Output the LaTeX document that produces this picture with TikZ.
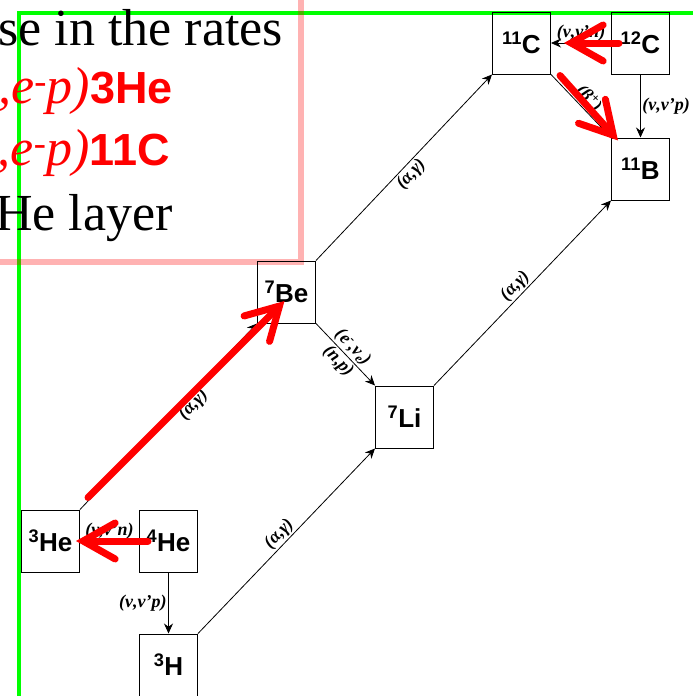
\documentclass[tikz,border=0pt]{standalone}
\usepackage{fontspec}
\setmainfont{Liberation Serif}
\setsansfont{Liberation Sans}
\usetikzlibrary{arrows.meta, positioning}

\tikzset{
  nucbox/.style={draw, line width=1pt, minimum width=58pt, minimum height=62pt, inner sep=0pt,
    font=\sffamily\bfseries\fontsize{26}{28}\selectfont},
  reac/.style={font=\bfseries\itshape\fontsize{18}{20}\selectfont, inner sep=1.5pt},
  flow/.style={-{Stealth[length=10pt,width=9pt]}, line width=0.8pt},
  redarr/.style={red, line width=7pt, line cap=round,
    -{Straight Barb[length=32pt,width=36pt,line cap=round]}},
  bigtxt/.style={anchor=base east, inner sep=0pt, font=\fontsize{52}{60}\selectfont},
}

\begin{document}
\begin{tikzpicture}[x=1pt, y=-1pt]
    \useasboundingbox (0,0) rectangle (693,696);
    \clip (0,0) rectangle (693,696);

    % frames
    \draw[green, line width=4pt] (18.7,710) -- (18.7,13) -- (710,13);

    % text of the slide
    \node[bigtxt] (rates) at (283,45) {Increase in the rates};
    \node[bigtxt, red] (rhe) at (173,103) {{\itshape (ν\textsubscript{e},e\textsuperscript{-}p)}{\sffamily\bfseries\fontsize{45}{50}\selectfont 3He}};
    \node[bigtxt, red] (rc) at (170,165) {{\itshape (ν\textsubscript{e},e\textsuperscript{-}p)}{\sffamily\bfseries\fontsize{45}{50}\selectfont 11C}};
    \node[bigtxt] (layer) at (173,230) {in the He layer};
    \draw[red, opacity=0.3, line width=6pt] (-20,-20) rectangle (301,262);

    % nuclei
    \node[nucbox] (he3) at (50.5,541) {\textsuperscript{3}He};
    \node[nucbox, right=59pt of he3] (he4) {\textsuperscript{4}He};
    \node[nucbox, below=61pt of he4] (h3) {\textsuperscript{3}H};
    \node[nucbox, above right=185pt and 177pt of h3] (li7) {\textsuperscript{7}Li};
    \node[nucbox, above left=62pt and 59pt of li7] (be7) {\textsuperscript{7}Be};
    \node[nucbox, above right=186pt and 176pt of be7] (c11) {\textsuperscript{11}C};
    \node[nucbox, right=60pt of c11] (c12) {\textsuperscript{12}C};
    \node[nucbox, below=63pt of c12] (b11) {\textsuperscript{11}B};

    % reactions
    \draw[flow] (he3.north east) -- node[reac, sloped, below, pos=0.6] {(α,γ)} (be7.south west);
    \draw[flow] (h3.north east) -- node[reac, sloped, above] {(α,γ)} (li7.south west);
    \draw[flow] (be7.north east) -- node[reac, sloped, below] {(α,γ)} (c11.south west);
    \draw[flow] (li7.north east) -- node[reac, sloped, above] {(α,γ)} (b11.south west);
    \draw[flow] (be7.south east) -- node[reac, sloped, above] {(e\textsuperscript{-},ν\textsubscript{e})}
        node[reac, sloped, below] {(n,p)} (li7.north west);
    \draw[flow] (he4) -- node[reac, above] {(ν,ν'n)} (he3);
    \draw[flow] (he4) -- node[reac, left] {(ν,ν'p)} (h3);
    \draw[flow] (c12) -- node[reac, above] {(ν,ν'n)} (c11);
    \draw[flow] (c12) -- node[reac, right] {(ν,ν'p)} (b11);
    \draw[flow] (c11.south east) -- node[reac, sloped, above] {(β\textsuperscript{+})} (b11.north west);

    % highlighted rates
    \draw[redarr] ([xshift=8pt,yshift=12pt]he3.north east) -- ([xshift=-2pt,yshift=-9pt]be7.center);
    \draw[redarr] ([xshift=9pt]he4.west) -- ([xshift=-4pt]he3.east);
    \draw[redarr] ([xshift=8pt]c12.west) -- ([xshift=13pt]c11.east);
    \draw[redarr] ([xshift=9pt,yshift=-1pt]c11.south east) -- ([xshift=7pt,yshift=-3pt]b11.north west);
\end{tikzpicture}
\end{document}
